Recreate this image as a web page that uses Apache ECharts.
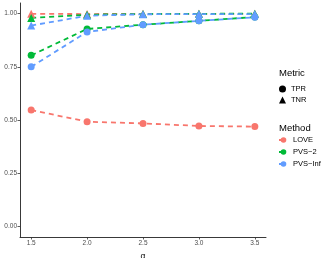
<!DOCTYPE html>
<html><head><meta charset="utf-8">
<script src="https://cdn.jsdelivr.net/npm/echarts@6/dist/echarts.min.js"></script>
<style>html,body{margin:0;padding:0;background:#fff}#c{width:332px;height:258px}</style>
</head><body><div id="c"></div>
<script>
const alphas = [1.5, 2.0, 2.5, 3.0, 3.5];
const methods = ['LOVE', 'PVS\u22122', 'PVS\u2212Inf'];
const metrics = ['TPR', 'TNR'];
const loveTPR = [0.547, 0.492, 0.484, 0.472, 0.469];
const loveTNR = [0.999, 0.998, 0.999, 0.999, 0.999];
const pvs2TPR = [0.804, 0.928, 0.948, 0.966, 0.984];
const pvs2TNR = [0.980, 0.995, 0.998, 0.999, 1.000];
const pvsInfTPR = [0.750, 0.914, 0.948, 0.966, 0.983];
const pvsInfTNR = [0.944, 0.990, 0.997, 0.998, 0.998];
const xTicks = [1.5, 2.0, 2.5, 3.0, 3.5];
const yTicks = [0, 0.25, 0.5, 0.75, 1.0];

const colors = {'LOVE':'#F8766D','PVS\u22122':'#00BA38','PVS\u2212Inf':'#619CFF'};
const values = {
  'LOVE': {TPR: loveTPR, TNR: loveTNR},
  'PVS\u22122': {TPR: pvs2TPR, TNR: pvs2TNR},
  'PVS\u2212Inf': {TPR: pvsInfTPR, TNR: pvsInfTNR}
};
const symbols = {TPR:'circle', TNR:'triangle'};
const series = [];
methods.forEach(m => {
  metrics.forEach(mt => {
    series.push({
      name: m, type: 'line',
      data: alphas.map((a, i) => [a, values[m][mt][i]]),
      symbol: symbols[mt], symbolSize: mt === 'TPR' ? 7 : 8,
      itemStyle: {color: colors[m]},
      lineStyle: {color: colors[m], width: 1.8, type: [5, 4]},
      emphasis: {disabled: true}, animation: false
    });
  });
});
metrics.forEach(mt => {
  series.push({name: mt, type:'line', data: [], symbol: symbols[mt], itemStyle:{color:'#000'}, lineStyle:{color:'#000'}});
});

const chart = echarts.init(document.getElementById('c'), null, {renderer:'canvas'});
chart.setOption({
  animation: false,
  grid: {left: 20, right: 66, top: 3, bottom: 21, containLabel: false, outerBoundsMode: 'none'},
  xAxis: {
    type: 'value', min: 1.4, max: 3.6,
    name: '\u03b1', nameLocation: 'middle', nameGap: 8,
    nameTextStyle: {fontSize: 8.5, color: '#000', fontFamily: 'Liberation Sans'},
    axisLine: {show: true, onZero: false, lineStyle: {color: '#222', width: 0.9}},
    axisTick: {show: true, length: 2.5, customValues: xTicks, lineStyle: {color: '#333', width: 0.8}},
    axisLabel: {customValues: xTicks, fontSize: 6.5, color: '#4D4D4D', margin: 3, fontFamily: 'Liberation Sans',
      formatter: v => v.toFixed(1)},
    splitLine: {show: false}
  },
  yAxis: {
    type: 'value', min: -0.05, max: 1.05,
    axisLine: {show: true, onZero: false, lineStyle: {color: '#222', width: 0.9}},
    axisTick: {show: true, length: 2.5, customValues: yTicks, lineStyle: {color: '#333', width: 0.8}},
    axisLabel: {customValues: yTicks, fontSize: 6.5, color: '#4D4D4D', margin: 3, fontFamily: 'Liberation Sans',
      formatter: v => v.toFixed(2)},
    splitLine: {show: false}
  },
  legend: [
    {data: [{name:'TPR', icon:'circle'}, {name:'TNR', icon:'triangle'}],
     orient:'vertical', left: 279, top: 85, padding: 0, itemWidth: 7, itemHeight: 7, itemGap: 3,
     textStyle: {fontSize: 7.5, color:'#000', fontFamily:'Liberation Sans'}, selectedMode: false},
    {data: methods, orient:'vertical', left: 278, top: 136, padding: 0, itemWidth: 9, itemHeight: 7, itemGap: 4,
     textStyle: {fontSize: 7.5, color:'#000', fontFamily:'Liberation Sans'}, selectedMode: false}
  ],
  graphic: [
    {type:'text', left: 279, top: 68, style:{text:'Metric', fontSize: 9.5, fill:'#000', fontFamily:'Liberation Sans'}},
    {type:'text', left: 279, top: 123, style:{text:'Method', fontSize: 9.5, fill:'#000', fontFamily:'Liberation Sans'}}
  ],
  series: series
});
</script></body></html>
